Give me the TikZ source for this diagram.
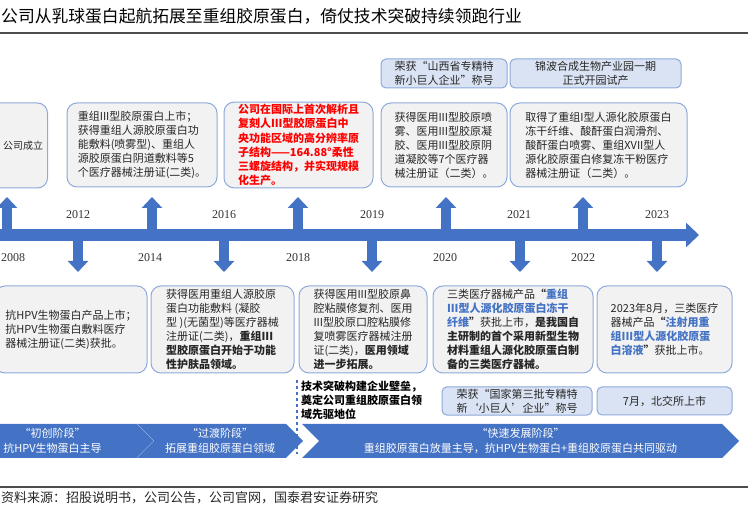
\documentclass[tikz,border=0pt]{standalone}
\usepackage{fontspec}
\setmainfont{Liberation Serif}
\newfontfamily\cjk{Noto Sans CJK SC}
\usepackage{xcolor}
\usetikzlibrary{arrows.meta,shapes.symbols}
\definecolor{barblue}{HTML}{4472C4}
\definecolor{edgeblue}{HTML}{8EA9DB}
\definecolor{tagfill}{HTML}{DAE3F3}
\definecolor{boxfill}{HTML}{F2F2F2}
\newcommand{\hlb}[1]{\textcolor{barblue}{\bfseries #1}}

\begin{document}
\begin{tikzpicture}[x=1pt,y=-1pt,
  bigbox/.style={draw=edgeblue,fill=boxfill,line width=1pt,rounded corners=10pt,align=left,inner sep=2pt,font=\cjk\fontsize{11}{14}\selectfont,text=black!85},
  tagbox/.style={draw=edgeblue,fill=tagfill,line width=1pt,rounded corners=5pt,align=center,inner sep=2pt,font=\cjk\fontsize{11}{14}\selectfont,text=black!85},
  year/.style={font=\fontsize{12}{14}\selectfont,text=black!80},
  stage/.style={signal,signal to=east,fill=barblue,text=white,align=center,font=\cjk\fontsize{11}{15}\selectfont,minimum height=34pt,inner sep=0pt},
  vup/.style={line width=10pt,draw=barblue,-{Triangle[width=20pt,length=11pt]}},
  rule/.style={line width=1.5pt,draw=black!70}]
\useasboundingbox (0,0) rectangle (748,510);
\clip (0,0) rectangle (748,510);
\node[anchor=base west,inner sep=0pt,font=\cjk\fontsize{16.8}{18}\selectfont] (title) at (1,23) {公司从乳球蛋白起航拓展至重组胶原蛋白，倚仗技术突破持续领跑行业};
\draw[rule] (0,33)--(748,33);
\draw[rule] (0,487)--(748,487);
\node[anchor=west,inner sep=0pt,font=\cjk\fontsize{13}{16}\selectfont,text=black!85] (src) at (1,498) {资料来源：招股说明书，公司公告，公司官网，国泰君安证券研究};
\node[tagbox,minimum width=126pt,minimum height=29pt] (tagA) at (444,73.5) {荣获“山西省专精特\\新小巨人企业”称号};
\node[tagbox,minimum width=171pt,minimum height=29pt] (tagB) at (595.5,73.5) {锦波合成生物产业园一期\\正式开园试产};
\node[bigbox,minimum width=87pt,minimum height=85pt] (t0) at (4,145.5) {};
\node[anchor=west,inner sep=0pt,font=\cjk\fontsize{10}{12}\selectfont,text=black!85] (t0txt) at (3,145.5) {公司成立};
\node[bigbox,minimum width=150pt,minimum height=84pt] (t1) at (142,145) {重组III型胶原蛋白上市；\\获得重组人源胶原蛋白功\\能敷料(喷雾型)、重组人\\源胶原蛋白阴道敷料等5\\个医疗器械注册证(二类)。};
\node[bigbox,minimum width=149pt,minimum height=84pt,text=red,font=\cjk\bfseries\fontsize{11}{14.2}\selectfont] (t2) at (298.5,145) {公司在国际上首次解析且\\复刻人III型胶原蛋白中\\央功能区域的高分辨率原\\子结构——164.88°柔性\\三螺旋结构，并实现规模\\化生产。};
\node[bigbox,minimum width=126pt,minimum height=84pt] (t3) at (444,145) {获得医用III型胶原喷\\雾、医用III型胶原凝\\胶、医用III型胶原阴\\道凝胶等7个医疗器\\械注册证（二类）。};
\node[bigbox,minimum width=177pt,minimum height=84pt] (t4) at (598.5,145) {取得了重组I型人源化胶原蛋白\\冻干纤维、酸酐蛋白润滑剂、\\酸酐蛋白喷雾、重组XVII型人\\源化胶原蛋白修复冻干粉医疗\\器械注册证（二类）。};
\coordinate (bar) at (0,235);
\draw[line width=12pt,draw=barblue,-{Triangle[width=24pt,length=13pt]}] (-10,235)--(699,235);
\coordinate (u2008) at (7,197);
\coordinate (u2014) at (152,197);
\coordinate (u2018) at (298,197);
\coordinate (u2020) at (446,197);
\coordinate (u2022) at (583,197);
\coordinate (d2012) at (78,272);
\coordinate (d2016) at (224,272);
\coordinate (d2019) at (372,272);
\coordinate (d2021) at (520,272);
\coordinate (d2023) at (657,272);
\draw[vup] (u2008|-bar)--(u2008);
\draw[vup] (u2014|-bar)--(u2014);
\draw[vup] (u2018|-bar)--(u2018);
\draw[vup] (u2020|-bar)--(u2020);
\draw[vup] (u2022|-bar)--(u2022);
\draw[vup] (d2012|-bar)--(d2012);
\draw[vup] (d2016|-bar)--(d2016);
\draw[vup] (d2019|-bar)--(d2019);
\draw[vup] (d2021|-bar)--(d2021);
\draw[vup] (d2023|-bar)--(d2023);
\node[year,anchor=west,inner sep=0pt] (y2008) at (1,258) {2008};
\node[year] (y2012) at (78,215) {2012};
\node[year] (y2014) at (150,258) {2014};
\node[year] (y2016) at (224,215) {2016};
\node[year] (y2018) at (298,258) {2018};
\node[year] (y2019) at (372,215) {2019};
\node[year] (y2020) at (445,258) {2020};
\node[year] (y2021) at (519,215) {2021};
\node[year] (y2022) at (583,258) {2022};
\node[year] (y2023) at (657,215) {2023};
\node[bigbox,minimum width=152pt,minimum height=87pt] (b1) at (71,329.5) {抗HPV生物蛋白产品上市；\\抗HPV生物蛋白敷料医疗\\器械注册证(二类)获批。};
\node[bigbox,minimum width=143pt,minimum height=87pt] (b2) at (222.5,329.5) {获得医用重组人源胶原\\蛋白功能敷料 (凝胶\\型 )(无菌型)等医疗器械\\注册证(二类)，\textbf{重组III}\\\textbf{型胶原蛋白开始于功能}\\\textbf{性护肤品领域。}};
\node[bigbox,minimum width=128pt,minimum height=87pt] (b3) at (363,329.5) {获得医用III型胶原鼻\\腔粘膜修复剂、医用\\III型胶原口腔粘膜修\\复喷雾医疗器械注册\\证(二类)，\textbf{医用领域}\\\textbf{进一步拓展。}};
\node[bigbox,minimum width=160pt,minimum height=87pt] (b4) at (513,329.5) {三类医疗器械产品\textbf{“}\hlb{重组}\\\hlb{III型人源化胶原蛋白冻干}\\\hlb{纤维}\textbf{”}获批上市，\textbf{是我国自}\\\textbf{主研制的首个采用新型生物}\\\textbf{材料重组人源化胶原蛋白制}\\\textbf{备的三类医疗器械。}};
\node[bigbox,minimum width=135pt,minimum height=87pt] (b5) at (664.5,329.5) {2023年8月，三类医疗\\器械产品\textbf{“}\hlb{注射用重}\\\hlb{组III型人源化胶原蛋}\\\hlb{白溶液}\textbf{”}获批上市。};
\node[anchor=north west,align=left,inner sep=0pt,font=\cjk\bfseries\fontsize{11}{14}\selectfont] (note) at (301,381) {技术突破构建企业壁垒，\\奠定公司重组胶原蛋白领\\域先驱地位};
\draw[barblue,dashed,line width=1.5pt] (297,380)--(297,454);
\node[tagbox,minimum width=150pt,minimum height=28pt] (tagC) at (517,401) {荣获“国家第三批专精特\\新‘小巨人’企业”称号};
\node[tagbox,minimum width=135pt,minimum height=28pt] (tagD) at (664.5,401) {7月，北交所上市};
\node[stage,minimum width=185pt] (s1) at (52.5,441) {“初创阶段”\\抗HPV生物蛋白主导};
\node[stage,signal from=west,minimum width=166pt] (s2) at (220,441) {“过渡阶段”\\拓展重组胶原蛋白领域};
\node[stage,signal from=west,minimum width=437pt] (s3) at (520.5,441) {“快速发展阶段”\\重组胶原蛋白放量主导，抗HPV生物蛋白+重组胶原蛋白共同驱动};
\end{tikzpicture}
\end{document}
